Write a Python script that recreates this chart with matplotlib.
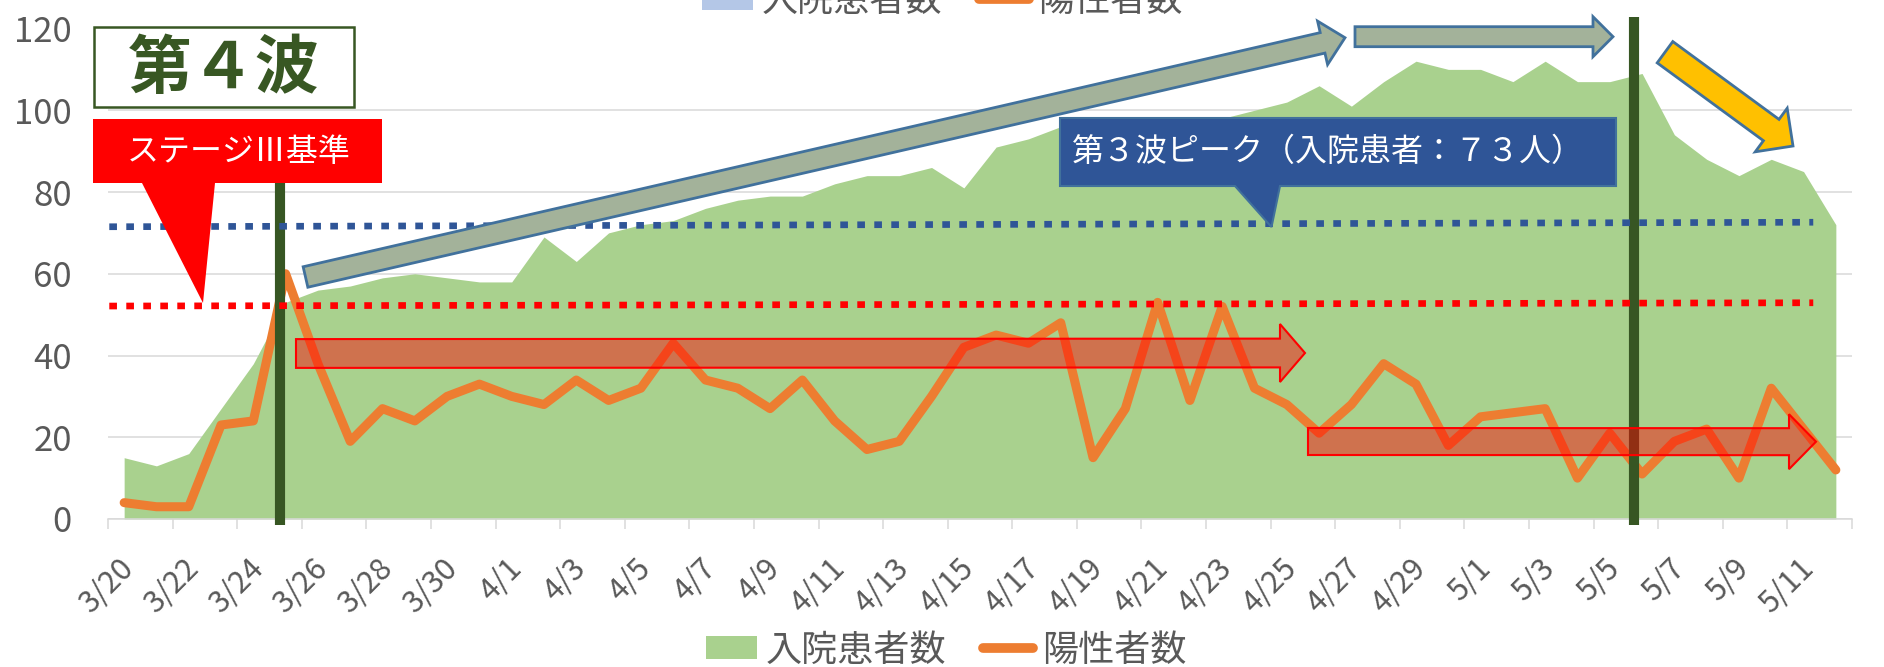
import numpy as np
import pandas as pd
import matplotlib
matplotlib.use('Agg')
import matplotlib.pyplot as plt
import matplotlib.transforms as mtransforms
from matplotlib.patches import Polygon, Rectangle, Patch
from matplotlib.lines import Line2D

plt.rcParams['font.family'] = ['Noto Sans CJK JP', 'DejaVu Sans']

# データ（3/20〜5/12）
dates = [f"{d.month}/{d.day}" for d in pd.date_range('2021-03-20', '2021-05-12')]

# 入院患者数
hosp = [15, 13, 16, 27, 38, 53, 56, 57, 59, 60, 59, 58,
        58, 69, 63, 70, 72, 73, 76, 78, 79, 79, 82, 84, 84, 86, 81, 91, 93, 96,
        97, 97, 98, 97, 98, 100, 102, 106, 101, 107, 112, 110,
        110, 107, 112, 107, 107, 109, 94, 88, 84, 88, 85, 72]

# 陽性者数
pos = [4, 3, 3, 23, 24, 60, 38, 19, 27, 24, 30, 33,
       30, 28, 34, 29, 32, 43, 34, 32, 27, 34, 24, 17, 19, 30, 42, 45, 43, 48,
       15, 27, 53, 29, 52, 32, 28, 21, 28, 38, 33, 18,
       25, 26, 27, 10, 21, 11, 19, 22, 10, 32, 22, 12]

yticks = [0, 20, 40, 60, 80, 100, 120]

GREEN = '#A9D18E'
ORANGE = '#ED7D31'
GRAY_TXT = '#595959'
GRID = '#D9D9D9'
DARK_GREEN = '#375623'
EDGE_BLUE = '#41719C'

W, H = 1884, 667
fig = plt.figure(figsize=(W / 100, H / 100), dpi=100)
ax = fig.add_axes([108 / W, 1 - 519 / H, (1852 - 108) / W, (519 - 28.5) / H])

x = np.arange(len(dates))
ax.fill_between(x, 0, hosp, color=GREEN, lw=0, zorder=1)
ax.plot(x, pos, color=ORANGE, lw=6.5, solid_joinstyle='round',
        solid_capstyle='round', zorder=2)

ax.set_xlim(-0.5, len(dates) - 0.5)
ax.set_ylim(0, 120)
ax.set_yticks(yticks)
ax.set_xticks(x[::2])
ax.set_xticklabels(dates[::2], rotation=45, ha='right', va='center',
                   rotation_mode='anchor')
ax.set_xticks(np.arange(-0.5, len(dates), 2), minor=True)
ax.tick_params(axis='x', which='major', length=0, pad=32, labelsize=22,
               labelcolor=GRAY_TXT)
ax.tick_params(axis='x', which='minor', length=7, width=1.1, color=GRID)
ax.tick_params(axis='y', length=0, pad=26, labelsize=25, labelcolor=GRAY_TXT)
# ラベルを少し右へ
shift = mtransforms.ScaledTranslation(5 / 100, 0, fig.dpi_scale_trans)
for lab in ax.get_xticklabels():
    lab.set_transform(lab.get_transform() + shift)
ax.grid(axis='y', color=GRID, lw=1.1)
ax.set_axisbelow(True)
for s in ['left', 'right', 'top']:
    ax.spines[s].set_visible(False)
ax.spines['bottom'].set_color(GRID)
ax.spines['bottom'].set_linewidth(1.1)

# 基準線（点線）
ax.plot([-0.46, 52.3], [71.5, 72.6], color='#2F5597', lw=4.8,
        ls=(0, (1.15, 1.4)), dash_capstyle='butt', zorder=4, clip_on=False)
ax.plot([-0.46, 52.3], [52.1, 52.9], color='#FF0000', lw=4.8,
        ls=(0, (1.15, 1.4)), dash_capstyle='butt', zorder=4, clip_on=False)

# 縦線
ax.plot([4.84, 4.84], [-1.5, 90], color=DARK_GREEN, lw=7.3,
        solid_capstyle='butt', zorder=3, clip_on=False)
ax.plot([46.75, 46.75], [-1.5, 122.8], color=DARK_GREEN, lw=7.3,
        solid_capstyle='butt', zorder=3, clip_on=False)

# 図形はピクセル座標（左上原点）で配置
pix = mtransforms.Affine2D().scale(1 / W, -1 / H).translate(0, 1) + fig.transFigure


def arrow_poly(tail, tip, body, head, head_len):
    x0, y0 = tail
    x1, y1 = tip
    L = np.hypot(x1 - x0, y1 - y0)
    ux, uy = (x1 - x0) / L, (y1 - y0) / L
    nx, ny = -uy, ux
    bx, by = x1 - ux * head_len, y1 - uy * head_len
    return [(x0 + nx * body, y0 + ny * body),
            (bx + nx * body, by + ny * body),
            (bx + nx * head, by + ny * head),
            (x1, y1),
            (bx - nx * head, by - ny * head),
            (bx - nx * body, by - ny * body),
            (x0 - nx * body, y0 - ny * body)]


def add_shape(pts, **kw):
    p = Polygon(pts, closed=True, transform=pix, clip_on=False, **kw)
    ax.add_patch(p)


# 矢印
add_shape(arrow_poly((305.5, 277), (1345, 37.7), 10.5, 22.3, 23),
          facecolor='#A3B29A', edgecolor=EDGE_BLUE, lw=2, zorder=5)
add_shape(arrow_poly((1355, 36.7), (1613, 36.7), 10, 20, 20),
          facecolor='#A3B29A', edgecolor=EDGE_BLUE, lw=2, zorder=5)
add_shape(arrow_poly((1665, 52.2), (1793, 146), 13.2, 27, 27),
          facecolor='#FFC000', edgecolor=EDGE_BLUE, lw=2, zorder=5)
add_shape(arrow_poly((296, 353.5), (1305, 353), 14.4, 29, 25),
          facecolor=(1, 0, 0, 0.45), edgecolor='#FF0000', lw=1.5, zorder=5)
add_shape(arrow_poly((1308, 441.5), (1816, 441.7), 13.5, 27.5, 27),
          facecolor=(1, 0, 0, 0.45), edgecolor='#FF0000', lw=1.5, zorder=5)

# 第４波
ax.add_patch(Rectangle((94, 27), 260, 80, transform=pix, clip_on=False,
                       facecolor='white', edgecolor='#385723', lw=1.8, zorder=6))
ax.text(224, 69, '第４波', transform=pix, ha='center', va='center',
        fontsize=46, fontweight='bold', color='#385723', zorder=7)

# ステージⅢ基準
add_shape([(93, 119), (382, 119), (382, 183), (215, 183), (203, 303),
           (142, 183), (93, 183)], facecolor='#FF0000', lw=0, zorder=6)
ax.text(239, 152, 'ステージⅢ基準', transform=pix, ha='center', va='center',
        fontsize=23, color='white', zorder=7)

# 第３波ピーク
add_shape([(1060, 118), (1616, 118), (1616, 186), (1280, 186), (1271.5, 227),
           (1235, 186), (1060, 186)], facecolor='#2F5597', edgecolor=EDGE_BLUE,
          lw=1.5, zorder=6)
ax.text(1328, 152, '第３波ピーク（入院患者：７３人）', transform=pix, ha='center',
        va='center', fontsize=23, color='white', zorder=7)

# 凡例
labels = ['入院患者数', '陽性者数']
bottom_handles = [Patch(facecolor=GREEN),
                  Line2D([], [], color=ORANGE, lw=7, solid_capstyle='round')]
top_handles = [Patch(facecolor='#B4C7E7'),
               Line2D([], [], color=ORANGE, lw=7, solid_capstyle='round')]
leg_kw = dict(loc='center', ncol=2, frameon=False, fontsize=26,
              handlelength=1.4, handleheight=0.6, handletextpad=0.25,
              columnspacing=1.0, labelcolor=GRAY_TXT)
fig.legend(bottom_handles, labels, bbox_to_anchor=(0.5024, 0.0247), **leg_kw)
fig.legend(top_handles, labels, bbox_to_anchor=(0.5003, 0.998), **leg_kw)

fig.savefig('out.png', dpi=100)
